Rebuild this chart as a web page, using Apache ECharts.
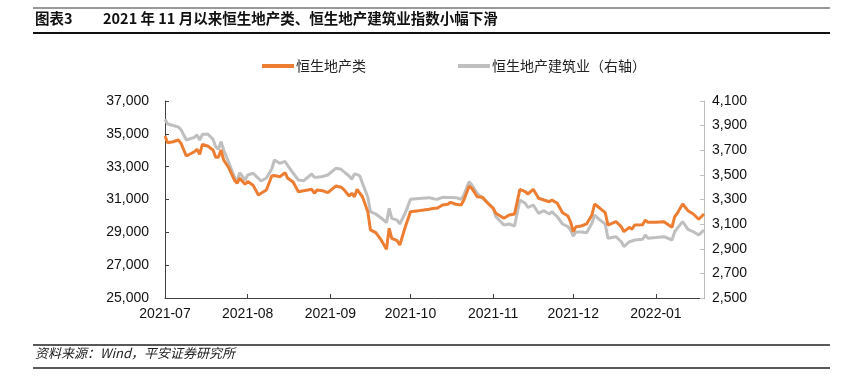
<!DOCTYPE html>
<html>
<head>
<meta charset="utf-8">
<script src="https://cdn.jsdelivr.net/npm/echarts@6/dist/echarts.min.js"></script>
<style>
html,body{margin:0;padding:0;background:#fff;}
#c{width:851px;height:389px;}
</style>
</head>
<body>
<div id="c"></div>
<script>
const dates = [
'2021-07-01','2021-07-02','2021-07-04','2021-07-06','2021-07-07','2021-07-09','2021-07-12','2021-07-13','2021-07-14','2021-07-15','2021-07-17','2021-07-19','2021-07-20','2021-07-21','2021-07-22','2021-07-23','2021-07-25','2021-07-27','2021-07-28','2021-07-29','2021-07-31',
'2021-08-01','2021-08-03','2021-08-05','2021-08-06','2021-08-08','2021-08-10','2021-08-11','2021-08-13','2021-08-15','2021-08-16','2021-08-18','2021-08-20','2021-08-22','2021-08-25','2021-08-26','2021-08-27','2021-08-29','2021-08-31',
'2021-09-03','2021-09-05','2021-09-06','2021-09-08','2021-09-09','2021-09-10','2021-09-11','2021-09-12','2021-09-13','2021-09-15','2021-09-16','2021-09-18','2021-09-20','2021-09-22','2021-09-23','2021-09-24','2021-09-26','2021-09-27','2021-09-29',
'2021-10-01','2021-10-04','2021-10-08','2021-10-10','2021-10-11','2021-10-13','2021-10-15','2021-10-16','2021-10-18','2021-10-20','2021-10-21','2021-10-23','2021-10-24','2021-10-26','2021-10-28','2021-10-30',
'2021-11-01','2021-11-02','2021-11-05','2021-11-07','2021-11-09','2021-11-11','2021-11-13','2021-11-14','2021-11-16','2021-11-18','2021-11-20','2021-11-22','2021-11-23','2021-11-25','2021-11-27','2021-11-29','2021-11-30',
'2021-12-01','2021-12-02','2021-12-04','2021-12-06','2021-12-08','2021-12-09','2021-12-11','2021-12-13','2021-12-14','2021-12-17','2021-12-19','2021-12-20','2021-12-22','2021-12-23','2021-12-24','2021-12-27','2021-12-28','2021-12-29',
'2022-01-01','2022-01-04','2022-01-07','2022-01-08','2022-01-09','2022-01-11','2022-01-13','2022-01-15','2022-01-17','2022-01-19'
];
const hsProperty = [
34870,34460,34520,34625,34420,33650,33910,34060,33750,34360,34260,34015,33570,33570,34015,33405,32900,32190,31985,32290,31925,
32090,31875,31275,31380,31580,32430,32460,32390,32630,32290,32065,31475,31535,31620,31380,31580,31535,31415,
31820,31745,31620,31215,31380,31170,31620,31380,31170,30260,29145,28980,28535,27965,29245,28635,28490,28230,29305,
30260,30320,30405,30465,30465,30665,30710,30830,30710,30665,30970,31820,31680,31170,31135,30770,
30465,30160,29855,30055,30115,31620,31475,31335,31620,31075,30970,30865,30970,30770,30195,29995,29630,
29040,29345,29385,29510,30055,30725,30465,30195,29445,29650,29345,29040,29305,29185,29445,29465,29750,29610,
29610,29650,29305,29950,30160,30725,30320,30115,29795,30115
];
const hsConstruction = [
3951,3913,3901,3889,3868,3783,3805,3824,3783,3828,3832,3789,3729,3708,3769,3702,3594,3483,3442,3518,3458,
3499,3513,3471,3450,3475,3548,3621,3594,3609,3576,3515,3458,3453,3507,3480,3480,3487,3499,
3553,3545,3526,3491,3464,3507,3503,3491,3432,3320,3201,3182,3150,3112,3228,3147,3133,3101,3188,
3302,3308,3315,3304,3302,3318,3316,3316,3315,3302,3336,3445,3418,3350,3310,3272,
3231,3160,3093,3101,3085,3296,3269,3235,3255,3188,3209,3182,3201,3160,3101,3079,3052,
3003,3036,3036,3030,3107,3174,3133,3101,2985,2998,2957,2917,2957,2963,2971,2977,3012,2985,
2991,2998,2971,3038,3066,3120,3058,3038,3012,3052
];
const monthLabels = ['2021-07','2021-08','2021-09','2021-10','2021-11','2021-12','2022-01'];
const seriesNames = ['恒生地产类','恒生地产建筑业（右轴）'];
const axisStart = '2021-07-01', axisEnd = '2022-01-19';

// calendar-day category axis
const cats = [];
{
  let d = new Date(axisStart + 'T00:00:00Z');
  const e = new Date(axisEnd + 'T00:00:00Z');
  while (d <= e) {
    cats.push(d.toISOString().slice(0,10));
    d = new Date(d.getTime() + 86400000);
  }
}
const isMonthStart = (idx, v) => v.slice(8) === '01' && monthLabels.indexOf(v.slice(0,7)) >= 0;

const chart = echarts.init(document.getElementById('c'));
const fmt = v => v.toLocaleString('en-US');
const latin = 'Liberation Sans, Arial, sans-serif';
const cjk = '"Noto Sans CJK SC", sans-serif';

chart.setOption({
  animation: false,
  backgroundColor: '#fff',
  grid: {left: 165, right: 147, top: 101, bottom: 91, containLabel: false},
  legend: {
    left: 257, top: 54,
    itemWidth: 32, itemHeight: 4, itemGap: 92,
    icon: 'rect',
    textStyle: {fontSize: 14, color: '#222', fontFamily: cjk, padding: [0,0,0,-3]},
    data: seriesNames
  },
  xAxis: {
    type: 'category',
    data: cats,
    boundaryGap: false,
    axisLine: {lineStyle: {color: '#404040', width: 1}},
    axisTick: {inside: true, length: 4, interval: isMonthStart, lineStyle: {color: '#404040'}},
    axisLabel: {interval: isMonthStart, formatter: v => v.slice(0,7), fontSize: 14, color: '#111', fontFamily: latin, margin: 9},
    splitLine: {show: false}
  },
  yAxis: [{
    type: 'value', min: 25000, max: 37000, interval: 2000,
    axisLine: {show: true, lineStyle: {color: '#404040', width: 1}},
    axisTick: {show: true, inside: true, length: 4, lineStyle: {color: '#404040'}},
    axisLabel: {formatter: fmt, fontSize: 14, color: '#111', fontFamily: latin, margin: 16},
    splitLine: {show: false}
  }, {
    type: 'value', min: 2500, max: 4100, interval: 200,
    axisLine: {show: true, lineStyle: {color: '#BFBFBF', width: 1}},
    axisTick: {show: true, inside: true, length: 4, lineStyle: {color: '#BFBFBF'}},
    axisLabel: {formatter: fmt, fontSize: 14, color: '#111', fontFamily: latin, margin: 8},
    splitLine: {show: false}
  }],
  series: [{
    name: seriesNames[0], type: 'line', yAxisIndex: 0,
    data: dates.map((d, i) => [d, hsProperty[i]]),
    showSymbol: false, connectNulls: true, z: 3,
    lineStyle: {color: '#ED7D31', width: 3},
    itemStyle: {color: '#ED7D31'}
  }, {
    name: seriesNames[1], type: 'line', yAxisIndex: 1,
    data: dates.map((d, i) => [d, hsConstruction[i]]),
    showSymbol: false, connectNulls: true, z: 2,
    lineStyle: {color: '#BFBFBF', width: 3},
    itemStyle: {color: '#BFBFBF'}
  }],
  graphic: [
    {type: 'line', shape: {x1: 33, y1: 8, x2: 830, y2: 8}, style: {stroke: '#333', lineWidth: 1}},
    {type: 'line', shape: {x1: 33, y1: 33, x2: 830, y2: 33}, style: {stroke: '#111', lineWidth: 2}},
    {type: 'text', left: 35, top: 11, style: {text: '图表3', fontSize: 14.5, fontWeight: 'bold', fill: '#111', fontFamily: cjk}},
    {type: 'text', left: 103, top: 11, style: {text: '2021 年 11 月以来恒生地产类、恒生地产建筑业指数小幅下滑', fontSize: 14.5, fontWeight: 'bold', fill: '#111', fontFamily: cjk}},
    {type: 'line', shape: {x1: 33, y1: 345, x2: 830, y2: 345}, style: {stroke: '#222', lineWidth: 1.5}},
    {type: 'text', left: 35, top: 347, style: {text: '资料来源：Wind，平安证券研究所', fontSize: 13, fontStyle: 'italic', fill: '#222', fontFamily: cjk}},
    {type: 'line', shape: {x1: 33, y1: 368, x2: 830, y2: 368}, style: {stroke: '#222', lineWidth: 1.5}}
  ]
});
</script>
</body>
</html>
